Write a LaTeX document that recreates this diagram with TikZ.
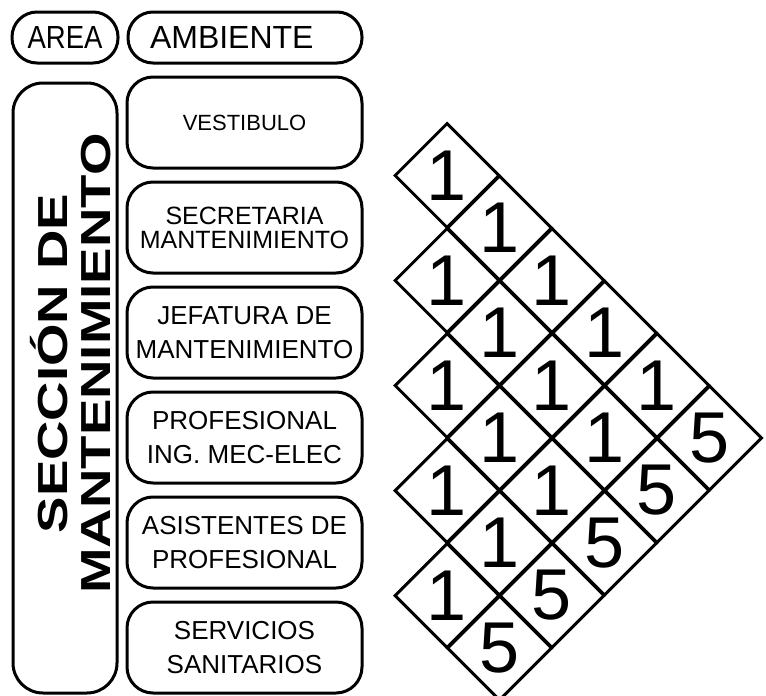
\documentclass[tikz,border=0pt]{standalone}
\usepackage{fontspec}
\usepackage{graphicx}
\setmainfont{Liberation Sans}
\usetikzlibrary{shapes.geometric, positioning}

\tikzset{
  pill/.style={draw, line width=3pt, rounded corners=25pt, minimum height=51pt, inner sep=0pt},
  amb/.style={draw, line width=3pt, rounded corners=26pt, minimum width=235pt, minimum height=91pt,
    align=center, inner sep=0pt, font=\fontsize{26}{34}\selectfont},
  cell/.style={draw, diamond, line width=3pt, minimum width=105pt, minimum height=105pt,
    inner sep=0pt, font=\fontsize{72}{72}\selectfont},
  seccion/.style={rotate=90, anchor=base, font=\fontsize{42}{42}\selectfont\bfseries},
}

\begin{document}
\begin{tikzpicture}[x=1pt, y=-1pt]
    \useasboundingbox (0,0) rectangle (766,696);
    % Headers
    \node[pill, minimum width=106pt, font=\fontsize{32}{32}\selectfont] (areahd) at (65,37.5) {\scalebox{0.86}[1]{AREA}};
    \node[pill, minimum width=234pt, text width=190pt, inner xsep=22pt, align=left,
      font=\fontsize{32}{32}\selectfont] (ambhd) at (245,37.5) {AMBIENTE};

    % Area column
    \node[draw, line width=3pt, rounded corners=30pt, minimum width=104pt, minimum height=610pt] (area) at (65,388) {};
    \node[seccion] (secc) at (67,363.5) {\scalebox{1.3}[1]{SECCIÓN DE}};
    \node[seccion] (mant) at (110,363.5) {\scalebox{1.3}[1]{MANTENIMIENTO}};

    % Ambientes
    \node[amb, font=\fontsize{22}{26}\selectfont] (vest) at (244.5,122.5) {VESTIBULO};
    \node[amb, below=11pt of vest, font=\fontsize{25}{24}\selectfont] (secr) {SECRETARIA\\MANTENIMIENTO};
    \node[amb, below=11pt of secr] (jefa) {JEFATURA DE\\MANTENIMIENTO};
    \node[amb, below=11pt of jefa] (prof) {PROFESIONAL\\ING. MEC-ELEC};
    \node[amb, below=11pt of prof] (asis) {ASISTENTES DE\\PROFESIONAL};
    \node[amb, below=11pt of asis] (serv) {SERVICIOS\\SANITARIOS};

    % Relation matrix (row / distance / value)
    \foreach \a/\d/\v in {1/1/1, 1/2/1, 1/3/1, 1/4/1, 1/5/1, 1/6/5,
                          2/1/1, 2/2/1, 2/3/1, 2/4/1, 2/5/5,
                          3/1/1, 3/2/1, 3/3/1, 3/4/5,
                          4/1/1, 4/2/1, 4/3/5,
                          5/1/1, 5/2/5}
        \node[cell] (c\a\d) at ({394.5+52.5*\d},{123+105*(\a-1)+52.5*\d}) {\v};
\end{tikzpicture}
\end{document}
